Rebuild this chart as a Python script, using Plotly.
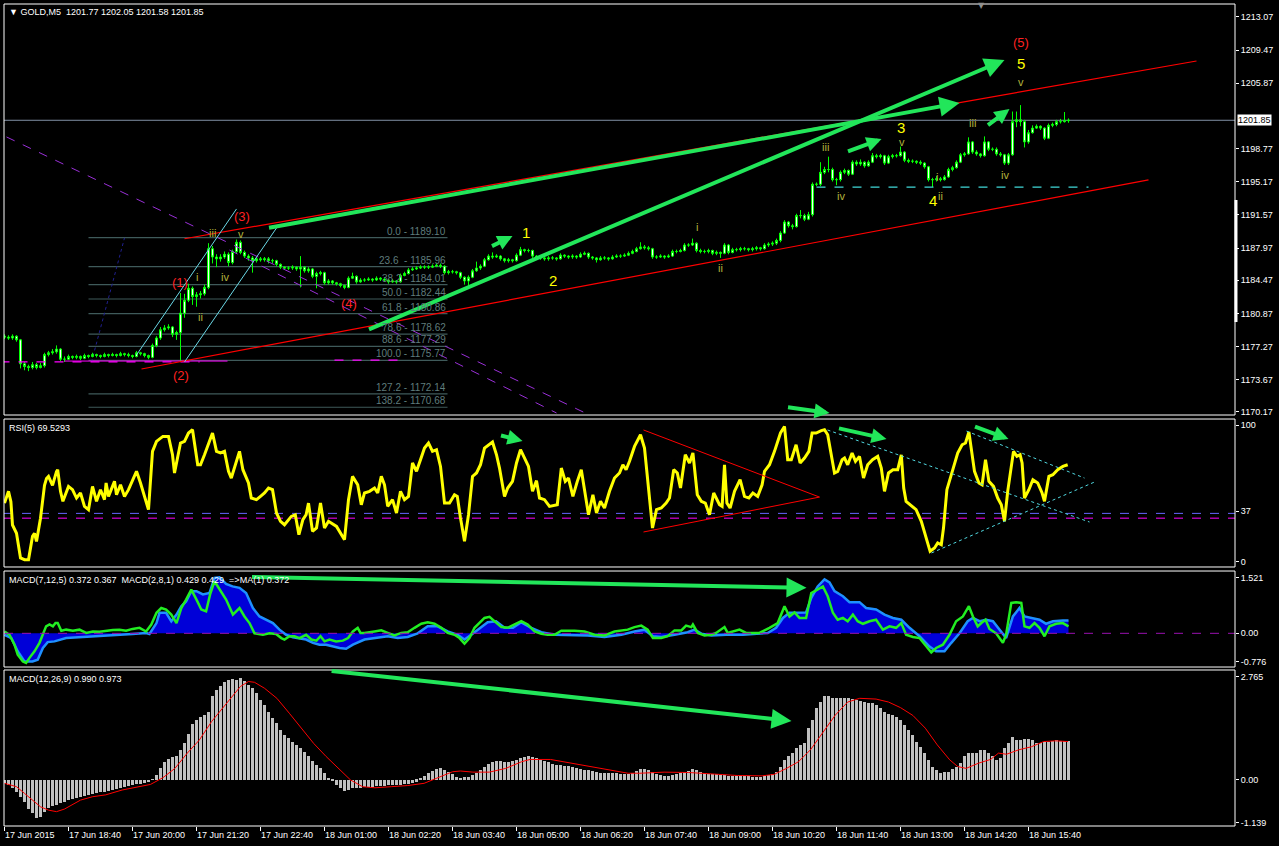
import plotly.graph_objects as go

FONT = "Liberation Sans"
ARROW_GREEN = "#22e65a"

# ---------------- price data: GOLD M5, bar 0 = 17 Jun 17:20 ----------------
close = [
    1178.3, 1178.2, 1178.4, 1178.0, 1175.4, 1175.1, 1175.0, 1175.3, 1175.0, 1175.2,
    1176.4, 1176.6, 1176.7, 1177.0, 1175.9, 1175.9, 1176.2, 1176.1, 1176.2, 1176.0,
    1176.3, 1176.2, 1176.4, 1176.3, 1176.2, 1176.4, 1176.3, 1176.4, 1176.3, 1176.5,
    1176.4, 1176.3, 1176.2, 1176.6, 1176.5, 1176.3, 1176.1, 1177.4, 1178.2, 1179.1,
    1179.3, 1179.4, 1178.6, 1178.8, 1180.9, 1182.3, 1183.6, 1182.7, 1182.9, 1183.0,
    1183.7, 1187.9, 1187.0, 1186.8, 1187.0, 1187.3, 1186.4, 1187.6, 1188.6, 1187.5,
    1187.1, 1186.9, 1186.6, 1186.8, 1186.7, 1186.8, 1186.6, 1186.6, 1186.2, 1185.9,
    1185.8, 1185.8, 1185.9, 1185.7, 1185.9, 1185.5, 1185.7, 1184.9, 1185.2, 1185.3,
    1184.2, 1184.4, 1184.2, 1184.1, 1183.9, 1183.7, 1184.7, 1184.9, 1184.3, 1184.5,
    1184.5, 1184.6, 1184.5, 1184.7, 1184.6, 1184.5, 1184.3, 1184.4, 1184.3, 1185.0,
    1185.2, 1185.6, 1185.7, 1185.8, 1185.9, 1185.9, 1185.9, 1186.0, 1186.1, 1186.0,
    1185.3, 1185.4, 1185.4, 1185.3, 1184.8, 1184.4, 1184.8, 1185.5, 1185.8, 1186.0,
    1186.7, 1187.1, 1187.0, 1187.1, 1186.8, 1186.6, 1186.7, 1186.6, 1187.2, 1187.8,
    1187.7, 1187.7, 1187.1, 1186.9, 1186.9, 1186.8, 1186.9, 1186.9, 1186.8, 1187.2,
    1187.1, 1187.0, 1187.1, 1187.0, 1187.3, 1187.4, 1187.0, 1186.9, 1186.7, 1186.9,
    1186.9, 1186.8, 1187.0, 1187.1, 1187.1, 1187.2, 1187.4, 1187.6, 1187.9, 1188.1,
    1188.0, 1187.9, 1187.0, 1187.0, 1187.1, 1187.0, 1187.1, 1187.6, 1187.6, 1187.7,
    1188.3, 1188.3, 1188.5, 1187.7, 1187.6, 1187.6, 1187.7, 1187.4, 1187.5, 1187.4,
    1188.3, 1187.5, 1187.8, 1187.8, 1187.9, 1187.9, 1187.8, 1187.9, 1188.0, 1187.9,
    1188.3, 1188.4, 1188.5, 1188.8, 1189.6, 1190.8, 1190.4, 1190.3, 1191.5, 1191.5,
    1191.1, 1191.6, 1194.9, 1194.9, 1196.2, 1196.5, 1196.5, 1195.4, 1195.4, 1196.2,
    1196.4, 1196.0, 1197.3, 1197.1, 1197.3, 1196.9, 1197.3, 1198.0, 1197.9, 1198.0,
    1197.2, 1197.9, 1198.0, 1198.0, 1198.4, 1197.5, 1197.4, 1197.4, 1197.3, 1197.2,
    1196.8, 1195.4, 1195.4, 1195.5, 1195.4, 1195.7, 1196.5, 1196.7, 1197.3, 1198.1,
    1198.2, 1199.5, 1198.4, 1198.2, 1198.0, 1199.5, 1198.7, 1198.7, 1198.2, 1198.1,
    1197.2, 1198.1, 1201.7, 1201.9, 1201.7, 1199.5, 1200.5, 1201.0, 1201.2, 1201.0,
    1199.9, 1201.3, 1201.4, 1201.7, 1201.7, 1201.8, 1201.85,
]
high = [
    1178.6, 1178.5, 1178.6, 1178.5, 1178.1, 1175.6, 1175.3, 1175.6, 1175.5, 1175.5,
    1176.6, 1176.8, 1177.0, 1177.4, 1177.1, 1176.2, 1176.4, 1176.3, 1176.4, 1176.3,
    1176.5, 1176.4, 1176.6, 1176.5, 1176.4, 1176.6, 1176.5, 1176.6, 1176.5, 1176.7,
    1176.6, 1176.6, 1176.4, 1176.8, 1176.7, 1176.6, 1176.4, 1177.6, 1178.4, 1179.4,
    1179.6, 1179.7, 1179.5, 1179.0, 1183.1, 1183.0, 1184.1, 1183.8, 1183.2, 1183.3,
    1184.0, 1188.5, 1188.2, 1187.3, 1187.3, 1187.6, 1187.5, 1187.8, 1188.9, 1188.8,
    1187.7, 1187.3, 1187.1, 1187.0, 1187.0, 1187.0, 1187.0, 1186.8, 1186.7, 1186.3,
    1186.0, 1186.0, 1186.1, 1186.0, 1187.1, 1186.0, 1185.9, 1185.8, 1185.4, 1185.5,
    1185.4, 1184.6, 1184.5, 1184.3, 1184.2, 1184.0, 1184.9, 1185.3, 1185.0, 1184.7,
    1184.7, 1184.8, 1184.7, 1184.9, 1184.8, 1184.7, 1184.6, 1184.6, 1184.5, 1185.2,
    1185.4, 1185.8, 1185.9, 1186.0, 1186.1, 1186.1, 1186.1, 1186.2, 1186.3, 1186.3,
    1186.1, 1185.6, 1185.6, 1185.5, 1185.4, 1184.9, 1185.0, 1185.7, 1186.5, 1186.2,
    1186.9, 1187.3, 1187.5, 1187.3, 1187.2, 1186.9, 1186.9, 1186.8, 1187.4, 1188.1,
    1187.9, 1187.9, 1187.8, 1187.2, 1187.1, 1187.0, 1187.1, 1187.1, 1187.0, 1187.4,
    1187.3, 1187.2, 1187.3, 1187.2, 1187.5, 1187.6, 1187.5, 1187.1, 1187.0, 1187.1,
    1187.1, 1187.0, 1187.2, 1187.3, 1187.3, 1187.4, 1187.6, 1187.8, 1188.1, 1188.6,
    1188.3, 1188.2, 1188.0, 1187.2, 1187.3, 1187.2, 1187.3, 1187.8, 1187.8, 1187.9,
    1188.5, 1188.5, 1189.0, 1188.6, 1187.9, 1187.8, 1187.9, 1187.8, 1187.7, 1187.6,
    1188.5, 1188.4, 1188.0, 1188.0, 1188.1, 1188.1, 1188.0, 1188.1, 1188.2, 1188.1,
    1188.5, 1188.6, 1188.7, 1189.0, 1189.8, 1191.0, 1190.9, 1190.6, 1191.7, 1192.1,
    1191.7, 1191.9, 1195.1, 1195.1, 1197.3, 1196.8, 1197.9, 1196.7, 1195.6, 1196.4,
    1196.6, 1196.5, 1197.5, 1197.5, 1197.6, 1197.4, 1197.5, 1198.3, 1198.2, 1198.2,
    1198.1, 1198.1, 1198.2, 1198.2, 1199.0, 1198.5, 1197.7, 1197.6, 1197.5, 1197.5,
    1197.3, 1196.9, 1195.6, 1195.8, 1195.7, 1195.9, 1196.7, 1196.9, 1197.5, 1198.3,
    1198.4, 1200.0, 1199.6, 1198.6, 1198.3, 1200.1, 1199.6, 1198.9, 1198.9, 1198.4,
    1198.2, 1198.3, 1202.8, 1202.8, 1203.5, 1201.9, 1200.8, 1201.3, 1201.4, 1201.3,
    1201.1, 1201.5, 1201.6, 1201.9, 1202.0, 1202.75, 1202.05,
]
low = [
    1178.1, 1178.0, 1178.0, 1177.8, 1174.9, 1174.7, 1174.6, 1174.8, 1174.8, 1174.9,
    1175.0, 1176.2, 1176.4, 1176.5, 1175.7, 1175.6, 1175.8, 1175.9, 1175.9, 1175.8,
    1175.9, 1176.0, 1176.1, 1176.1, 1176.0, 1176.1, 1176.1, 1176.2, 1176.1, 1176.2,
    1176.2, 1176.1, 1176.0, 1176.1, 1176.3, 1176.1, 1175.9, 1176.0, 1177.2, 1178.0,
    1178.9, 1179.1, 1178.3, 1178.0, 1175.6, 1180.4, 1182.1, 1181.8, 1181.6, 1182.5,
    1182.8, 1183.5, 1186.3, 1185.9, 1186.5, 1186.8, 1186.0, 1186.2, 1187.4, 1187.3,
    1186.9, 1186.6, 1185.3, 1186.4, 1186.5, 1186.5, 1186.3, 1186.3, 1186.0, 1185.7,
    1185.6, 1185.6, 1185.6, 1185.5, 1183.7, 1185.3, 1185.3, 1184.7, 1183.6, 1185.0,
    1184.0, 1184.0, 1184.0, 1183.9, 1183.7, 1183.5, 1183.6, 1184.6, 1184.1, 1184.2,
    1184.3, 1184.4, 1184.3, 1184.4, 1184.4, 1184.3, 1184.1, 1184.2, 1184.1, 1184.2,
    1184.9, 1185.1, 1185.5, 1185.6, 1185.7, 1185.7, 1185.7, 1185.8, 1185.9, 1185.8,
    1185.1, 1185.1, 1185.2, 1185.1, 1184.6, 1184.0, 1183.9, 1184.7, 1185.4, 1185.6,
    1185.9, 1186.6, 1186.8, 1186.9, 1186.6, 1186.4, 1186.4, 1186.4, 1186.5, 1187.1,
    1187.5, 1187.5, 1186.9, 1186.7, 1186.7, 1186.6, 1186.6, 1186.7, 1186.6, 1186.7,
    1186.9, 1186.8, 1186.8, 1186.8, 1186.9, 1187.2, 1186.8, 1186.7, 1186.4, 1186.6,
    1186.7, 1186.6, 1186.7, 1186.9, 1186.9, 1187.0, 1187.1, 1187.3, 1187.5, 1187.8,
    1187.8, 1187.7, 1186.8, 1186.8, 1186.9, 1186.8, 1186.9, 1187.0, 1187.4, 1187.5,
    1187.6, 1188.1, 1188.2, 1187.5, 1187.4, 1187.4, 1187.4, 1187.2, 1187.2, 1186.9,
    1187.3, 1187.3, 1187.4, 1187.6, 1187.6, 1187.7, 1187.6, 1187.6, 1187.7, 1187.7,
    1187.8, 1188.1, 1188.2, 1188.3, 1188.6, 1189.5, 1190.2, 1190.0, 1190.2, 1191.2,
    1190.9, 1191.0, 1191.4, 1194.7, 1194.7, 1196.0, 1196.2, 1195.2, 1194.8, 1195.2,
    1196.0, 1195.8, 1195.9, 1196.9, 1196.9, 1196.7, 1196.8, 1197.2, 1197.7, 1197.7,
    1197.0, 1197.1, 1197.7, 1197.8, 1197.9, 1197.3, 1197.2, 1197.2, 1197.1, 1197.0,
    1196.6, 1195.2, 1194.6, 1195.2, 1195.2, 1195.3, 1195.6, 1196.3, 1196.6, 1197.2,
    1197.9, 1198.1, 1198.2, 1198.0, 1197.8, 1197.9, 1198.5, 1198.5, 1198.0, 1197.9,
    1197.0, 1197.0, 1198.0, 1201.1, 1201.2, 1198.9, 1199.3, 1200.4, 1200.9, 1200.8,
    1199.7, 1199.8, 1201.1, 1201.2, 1201.5, 1201.6, 1201.58,
]
first_open = 1178.4
last_price = 1201.85

# ---------------- indicators (bar position, value) ----------------
rsi_points = [
    (0, 43), (1, 51.6), (1.6, 44), (2, 27), (3, 21), (4, 3), (5, 1.7), (6, 1.7), (7, 18.7), (7.5, 21),
    (8, 15), (9, 32), (10, 56), (10.5, 61), (11, 62.5), (12, 56), (13, 66), (13.3, 67.4), (14, 51.6),
    (14.6, 44.3), (16, 55.2), (17, 52.8), (18, 46.7), (19, 50.4), (20, 40.6), (21, 38.2), (22, 55.2),
    (23, 44.3), (24, 52.8), (25, 45.5), (25.4, 57.7), (26, 47.9), (27.5, 58.9), (28, 49.1), (29, 56.4),
    (30, 47.9), (31, 52.8), (33, 66.2), (34, 57.7), (35, 47.9), (36, 38.2), (37, 80.8), (38, 88.1),
    (39.6, 91.7), (41, 91.7), (42, 78.3), (42.5, 65), (44, 86.9), (45, 88.1), (46, 94.2), (47, 96.6),
    (48.3, 71), (49, 71), (50, 78.3), (52, 94.2), (53, 80.8), (54, 79.6), (55, 80.8), (56, 66.2),
    (56.7, 61.3), (58, 74.7), (58.75, 80.8), (59.6, 67.4), (61, 57.7), (61.7, 46.7), (63, 45.5),
    (64, 47.9), (65, 50.4), (66, 54), (67, 52.8), (68, 35.8), (69, 29.7), (70, 27.2), (71.7, 33.3),
    (72.7, 34.5), (73.6, 19.9), (74.6, 30.9), (75.4, 34.5), (76, 43), (77, 22.4), (78, 24.8), (79, 43),
    (80, 24.8), (81, 29.7), (83, 26), (84, 21.2), (85, 16.3), (86, 45.5), (87, 62.5),
    (88.3, 56.4), (89.2, 41.8), (90, 50.4), (91.25, 51.6), (92.5, 54), (93.3, 50.4), (94.2, 62.5),
    (95, 56.4), (95.8, 40.6), (97, 45.5), (98, 35.8), (99, 51.6), (100, 45.5), (101, 47.9), (102, 72.3),
    (103, 66.2), (104, 74.7), (105, 83.2), (106, 86.9), (107, 80.8), (108, 82), (109, 69.8), (110, 43),
    (111.25, 43), (112.5, 49.1), (113.2, 47.9), (114, 32.1), (115, 15.1), (116, 34.5), (117, 62.5),
    (118, 65), (119, 71), (120, 83.2), (121.25, 85.6), (122, 87.6), (123, 78.3), (123.75, 68.6),
    (125, 47.9), (125.8, 54), (127, 58.9), (128, 72.3), (129, 82), (130, 75.9), (131, 69.8), (132, 51.6),
    (133, 59.4), (133.75, 46.7), (135, 45.5), (136.25, 40.6), (137.5, 41.3), (138.2, 41.8), (139.2, 68.6),
    (140.2, 58.9), (141, 61.3), (142.1, 47.9), (143.2, 58.9), (144.2, 67.4), (145, 52.8), (146, 34.5),
    (147.1, 49.1), (148, 35.8), (149, 44.3), (150, 39.4), (151.25, 51.6), (152.5, 61.3), (153.75, 65),
    (154.6, 71), (155.4, 67.4), (156.25, 73.5), (157.5, 84.4), (159, 92.9), (160, 83.2), (161.25, 49.1),
    (162, 24.8), (163, 38.2), (164.2, 39.4), (165.4, 43), (166.25, 46.7), (167.3, 67.4), (168.2, 65),
    (169, 54), (170.2, 78.3), (171.25, 72.3), (172.1, 79.6), (173.2, 49.1), (174.2, 44.3), (175.2, 43),
    (176.25, 34.5), (177.3, 50.4),
    (178.75, 41.8), (179.4, 40.6), (180, 71), (180.6, 43), (181.4, 39.4), (182.5, 51.6), (183.9, 60.1),
    (185, 47.9), (186.1, 46.7), (187.1, 50.4), (188.3, 47.9), (189.4, 56.4), (190, 66.2), (191.25, 71),
    (192.5, 80.8), (194, 94.2), (195, 99), (195.8, 74.7), (196.7, 74.7), (197.9, 85.6), (198.9, 72.3),
    (200, 75.9), (201.1, 80.8), (201.9, 94.2), (202.9, 94.2), (204.2, 95.9), (205, 96.6), (205.8, 92.9),
    (206.7, 77.1), (207.5, 65), (208.3, 66.2), (209.4, 74.7), (210, 75.9), (210.8, 71), (211.9, 79.6),
    (212.75, 73.5), (213.75, 77.1), (214.75, 61.3), (215.8, 71), (217, 74.7), (218.3, 77.1), (219.2, 68.6),
    (220, 51.6), (221, 65), (222.1, 67.4), (223.3, 67.4), (224.2, 78.3), (224.8, 54), (225.4, 44.3),
    (226.4, 41.8), (227.9, 38.2), (229.2, 29.7), (230.4, 17.5), (231.4, 7.8), (232.5, 10.2), (233.3, 13.9),
    (234.2, 12.6), (234.75, 24.8), (235.6, 52.8), (236.4, 61.3), (237.5, 71), (238.3, 79.6), (239.4, 85.6),
    (240.25, 86.9), (241.1, 94.9), (241.7, 83.2), (242.5, 66.2), (243.6, 57.7), (244.4, 56.4),
    (245.25, 74.7), (246.1, 58.9), (247.25, 55.2), (248.3, 46.7), (249.2, 41.8), (250, 29.7), (250.8, 51.6),
    (251.7, 72.3), (252.25, 80.8), (253.1, 77.1), (253.9, 78.3), (254.4, 72.3), (255, 46.7), (256.1, 52.8),
    (257.1, 60.1), (258.3, 57.7), (259.4, 50.4), (260, 44.3), (261.1, 62.5), (262.1, 63.7), (263.3, 67.4),
    (264.6, 69.8), (265.8, 71),
]
rsi_levels = [35.5, 32.0]

macd_blue_points = [
    (0, -0.04), (1.7, -0.13), (3.3, -0.49), (5, -0.77), (7, -0.77), (8.3, -0.72), (9.6, -0.4), (10.8, -0.24),
    (12.5, -0.22), (15.4, -0.13), (19.6, -0.1), (23.75, -0.08), (28, -0.04), (32, -0.02), (35.4, 0.01),
    (36.25, -0.02), (38, 0.28), (38.75, 0.56), (40.4, 0.56), (41.7, 0.33), (43, 0.51), (44.2, 0.74),
    (45.4, 0.87), (46.7, 1.15), (48, 1.15), (49.6, 1.06), (51.25, 1.1), (52.5, 1.51), (53.75, 1.53),
    (55.4, 1.35), (57, 1.28), (58.75, 1.24), (60.4, 1.1), (62.1, 0.69), (63.75, 0.46), (65.4, 0.37),
    (67.1, 0.28), (68.75, 0.1), (70.4, -0.04), (72.1, -0.11), (73.75, -0.13), (75.4, -0.17), (77.1, -0.26),
    (78.75, -0.31), (80.4, -0.31), (82.1, -0.36), (83.75, -0.4), (85.4, -0.42), (87.1, -0.31), (90, -0.17),
    (92.5, -0.13), (95.8, -0.08), (98.3, -0.13), (100.8, -0.1), (103.3, 0.0), (105.8, 0.19), (108.3, 0.19),
    (110.8, 0.05), (113.3, -0.04), (115, -0.17), (116.7, -0.04), (118.3, 0.1), (120.8, 0.3), (122.9, 0.33),
    (125, 0.15), (127.1, 0.15), (129.2, 0.3), (131.7, 0.15), (134.2, 0.03), (137.5, -0.04), (141.7, -0.04),
    (145.8, -0.06), (150, -0.1), (154.2, -0.04), (157.5, 0.05), (160, 0.1), (162.1, -0.08), (164.2, -0.1),
    (167.5, -0.04), (170.8, 0.03), (172.5, 0.1), (174.2, -0.01), (176.7, -0.06), (180.4, -0.04),
    (184.6, -0.04), (188.75, -0.02), (190.8, 0.01), (192.9, 0.15), (194.6, 0.42), (196.25, 0.56),
    (198.3, 0.57), (200.4, 0.57), (201.7, 0.97), (203.3, 1.28), (205, 1.47), (206.25, 1.39), (207.5, 1.15),
    (209.6, 1.01), (211.25, 0.85), (213.75, 0.85), (215.4, 0.69), (217.9, 0.65), (220, 0.51), (222.1, 0.42),
    (224.2, 0.37), (226.25, 0.15), (228.75, -0.08), (231.25, -0.36), (232.9, -0.49), (235, -0.49),
    (236.7, -0.26), (238.75, 0.0), (240.8, 0.33), (242.1, 0.42), (243.75, 0.33), (245.4, 0.37),
    (247.1, 0.33), (248.75, 0.1), (250.4, -0.13), (252.1, 0.46), (253.75, 0.69), (255, 0.46), (257.1, 0.42),
    (258.75, 0.37), (260.4, 0.26), (262.1, 0.33), (264.6, 0.35), (266, 0.35),
]
macd_green_points = [
    (0, 0.05), (1.25, -0.04), (2.5, -0.31), (3.3, -0.58), (4.6, -0.77), (5.4, -0.81), (6.25, -0.67),
    (7.5, -0.49), (8.75, -0.26), (9.6, 0.0), (10.4, 0.19), (11.25, 0.24), (12.1, 0.19), (12.75, 0.28),
    (13.3, 0.28), (14.2, 0.07), (15.4, 0.1), (17.1, 0.07), (18.75, 0.1), (20.4, 0.01), (22.1, 0.05),
    (23.75, 0.04), (25.4, 0.07), (27.1, 0.09), (28.75, 0.1), (30.4, 0.07), (32, 0.12), (33.75, 0.15),
    (35.4, 0.05), (36.7, 0.24), (38, 0.56), (39.2, 0.69), (40.4, 0.65), (41.7, 0.51), (43, 0.28),
    (44.2, 0.69), (45.4, 0.92), (46.7, 1.19), (48, 0.92), (49.2, 0.65), (50.4, 0.6), (51.4, 1.06),
    (52.5, 1.42), (53.75, 1.19), (55.4, 0.92), (57.1, 0.51), (58.75, 0.69), (60, 0.46), (61.25, 0.28),
    (62.5, 0.0), (64.6, -0.04), (66.25, 0.0), (67.9, -0.02), (69.2, -0.13), (70, -0.17), (71.25, -0.08),
    (72.5, -0.08), (73.75, -0.13), (75.4, -0.04), (76.7, -0.17), (78, -0.2), (79, -0.08), (80, -0.22),
    (81.25, -0.17), (82.9, -0.22), (84.6, -0.2), (85.9, -0.13), (87.1, 0.05), (88.3, 0.15), (89, 0.01),
    (90, 0.01), (92.5, 0.05), (94.2, 0.08), (95.8, 0.01), (97.5, -0.06), (99.2, 0.01), (100.8, 0.03),
    (102.5, 0.15), (104.2, 0.26), (105.8, 0.3), (107.5, 0.26), (109.2, 0.15), (110.8, 0.01),
    (112.5, -0.04), (113.75, -0.13), (115, -0.28), (116.25, -0.13), (117.5, 0.15), (118.75, 0.28),
    (120, 0.42), (121.25, 0.45), (122.5, 0.33), (124.2, 0.17), (125.8, 0.15), (127.5, 0.24), (129.2, 0.33),
    (130.8, 0.24), (132.5, 0.05), (134.2, -0.01), (135.8, -0.04), (137.5, -0.04), (139.2, 0.07),
    (142.5, 0.07), (145, 0.05), (147.5, -0.04), (150, -0.06), (152.5, 0.05), (154.2, 0.08), (155.8, 0.1),
    (157.5, 0.17), (159.2, 0.21), (160.8, 0.1), (162.1, -0.13), (164.2, -0.13), (165.8, -0.08),
    (167.5, 0.08), (169.2, 0.08), (170.4, 0.21), (171.7, 0.17), (172.1, 0.24), (173.3, 0.01), (175, -0.06),
    (176.7, -0.04), (177.9, 0.01), (180, 0.17), (180.8, 0.01), (183.75, 0.1), (185.4, 0.01), (188.75, 0.01),
    (191.25, 0.15), (193.3, 0.28), (195, 0.74), (196.25, 0.46), (197.5, 0.57), (198.75, 0.42),
    (200.4, 0.42), (201.7, 1.1), (202.9, 1.17), (204.6, 1.28), (205.8, 1.01), (207.1, 0.56), (208.3, 0.37),
    (209.6, 0.42), (210.8, 0.33), (212.1, 0.51), (213.3, 0.33), (214.6, 0.26), (216.25, 0.33),
    (217.9, 0.37), (219.6, 0.1), (221.25, 0.19), (222.9, 0.15), (224.2, 0.28), (225.4, -0.04),
    (227.1, -0.1), (228.75, -0.13), (230.4, -0.36), (231.7, -0.52), (232.9, -0.4), (234.6, -0.31),
    (236.25, -0.04), (237.9, 0.33), (239.6, 0.46), (241.1, 0.74), (242.1, 0.46), (243.3, 0.19),
    (244.2, 0.28), (245.25, 0.37), (246.25, 0.12), (247.9, 0.0), (249.6, -0.26), (250.4, -0.04),
    (251.7, 0.83), (252.9, 0.85), (254.2, 0.83), (255, 0.19), (256.25, 0.15), (257.5, 0.28),
    (258.75, 0.15), (260, -0.08), (261.25, 0.19), (262.9, 0.26), (264.6, 0.28), (266, 0.19),
]

macd_hist = [
    -0.09, -0.13, -0.22, -0.31, -0.45, -0.60, -0.78, -0.89, -1.01, -0.98,
    -0.85, -0.76, -0.70, -0.67, -0.62, -0.58, -0.55, -0.50, -0.48, -0.45,
    -0.43, -0.40, -0.38, -0.36, -0.33, -0.31, -0.29, -0.27, -0.24, -0.21,
    -0.18, -0.16, -0.14, -0.12, -0.10, -0.08, -0.06, 0.01, 0.13, 0.31,
    0.47, 0.56, 0.62, 0.65, 0.81, 0.98, 1.23, 1.49, 1.61, 1.70,
    1.73, 1.83, 2.24, 2.42, 2.53, 2.64, 2.68, 2.71, 2.68, 2.73,
    2.66, 2.55, 2.46, 2.33, 2.15, 2.01, 1.83, 1.66, 1.52, 1.34,
    1.21, 1.12, 1.03, 0.94, 0.85, 0.74, 0.63, 0.51, 0.40, 0.31,
    0.18, 0.04, -0.04, -0.13, -0.22, -0.29, -0.27, -0.22, -0.21, -0.21,
    -0.20, -0.20, -0.18, -0.17, -0.15, -0.15, -0.14, -0.14, -0.13, -0.13,
    -0.12, -0.11, -0.09, -0.05, 0.04, 0.12, 0.18, 0.24, 0.30, 0.31,
    0.27, 0.21, 0.15, 0.09, 0.06, 0.08, 0.08, 0.13, 0.18, 0.27,
    0.36, 0.42, 0.49, 0.51, 0.50, 0.49, 0.49, 0.52, 0.54, 0.59,
    0.62, 0.64, 0.62, 0.58, 0.54, 0.50, 0.47, 0.44, 0.41, 0.39,
    0.38, 0.37, 0.35, 0.32, 0.30, 0.28, 0.26, 0.23, 0.21, 0.19,
    0.18, 0.18, 0.18, 0.18, 0.17, 0.16, 0.16, 0.19, 0.25, 0.29,
    0.30, 0.27, 0.22, 0.17, 0.14, 0.12, 0.11, 0.13, 0.15, 0.18,
    0.21, 0.24, 0.30, 0.27, 0.22, 0.18, 0.15, 0.15, 0.15, 0.13,
    0.13, 0.12, 0.11, 0.12, 0.11, 0.11, 0.11, 0.09, 0.09, 0.09,
    0.11, 0.13, 0.17, 0.22, 0.36, 0.54, 0.63, 0.72, 0.87, 0.94,
    0.98, 1.39, 1.61, 1.92, 2.10, 2.24, 2.24, 2.21, 2.21, 2.21,
    2.19, 2.19, 2.17, 2.15, 2.12, 2.09, 2.06, 2.06, 2.01, 1.92,
    1.83, 1.76, 1.74, 1.70, 1.61, 1.48, 1.34, 1.21, 1.03, 0.89,
    0.72, 0.54, 0.36, 0.27, 0.18, 0.21, 0.21, 0.30, 0.36, 0.45,
    0.63, 0.72, 0.72, 0.72, 0.81, 0.81, 0.72, 0.63, 0.54, 0.60,
    0.85, 0.98, 1.16, 1.07, 1.07, 1.10, 1.10, 1.07, 0.98, 0.98,
    1.01, 1.03, 1.05, 1.07, 1.05, 1.05, 1.05,
]
macd_signal_points = [
    (0, -0.09), (3, -0.18), (5, -0.36), (7, -0.54), (9, -0.72), (11, -0.81), (13, -0.85), (15, -0.78),
    (17, -0.67), (19, -0.54), (22, -0.45), (25.3, -0.4), (29.4, -0.27), (33.4, -0.18), (36.5, -0.12),
    (39.6, 0.06), (42.6, 0.31), (45.7, 0.72), (48.7, 1.07), (51.8, 1.57), (54.9, 1.97), (56.9, 2.24),
    (59, 2.51), (61, 2.64), (62.5, 2.62), (65, 2.46), (68.1, 2.19), (71.2, 1.79), (74.2, 1.39),
    (77.3, 0.98), (80.4, 0.63), (83.4, 0.31), (86.5, 0.0), (89.5, -0.18), (92.6, -0.21), (96.7, -0.18),
    (100.8, -0.15), (104.9, -0.09), (109, 0.09), (112, 0.22), (114, 0.24), (117.1, 0.21), (121.2, 0.21),
    (125.3, 0.31), (129.3, 0.49), (131.4, 0.55), (136.5, 0.55), (141.6, 0.45), (146.7, 0.36),
    (151.8, 0.27), (155.9, 0.18), (158.8, 0.18), (164.9, 0.21), (171, 0.2), (177.1, 0.15), (183.2, 0.12),
    (189.4, 0.11), (192.4, 0.15), (195.5, 0.31), (198.5, 0.49), (201.5, 0.81), (204.7, 1.30),
    (207.7, 1.74), (210.8, 2.09), (213.8, 2.19), (217.9, 2.17), (221, 2.09), (224, 1.94), (227.1, 1.73),
    (230.2, 1.39), (233.2, 0.94), (236.3, 0.54), (238.3, 0.36), (240.4, 0.31), (243.5, 0.45),
    (246.5, 0.55), (248.5, 0.72), (250.5, 0.69), (253.6, 0.81), (256.7, 0.89), (259.8, 1.03),
    (262.8, 1.05), (265.9, 1.03),
]

# ---------------- axis ticks ----------------
price_ticks = [1213.07, 1209.47, 1205.87, 1198.77, 1195.17, 1191.57, 1187.97,
               1184.47, 1180.87, 1177.27, 1173.67, 1170.17]
rsi_ticks = [100, 37, 0]
macd1_ticks = [1.521, 0.0, -0.776]
macd1_ticktext = ["1.521", "0.00", "-0.776"]
macd2_ticks = [2.765, 0.0, -1.139]
macd2_ticktext = ["2.765", "0.00", "-1.139"]
x_tick_bars = list(range(0, 257, 16))
x_tick_text = ["17 Jun 2015", "17 Jun 18:40", "17 Jun 20:00", "17 Jun 21:20", "17 Jun 22:40",
               "18 Jun 01:00", "18 Jun 02:20", "18 Jun 03:40", "18 Jun 05:00", "18 Jun 06:20",
               "18 Jun 07:40", "18 Jun 09:00", "18 Jun 10:20", "18 Jun 11:40", "18 Jun 13:00",
               "18 Jun 14:20", "18 Jun 15:40"]

# ---------------- Fibonacci retracement ----------------
fib_pct = ["0.0", "23.6 ", "38.2", "50.0", "61.8", "78.6", "88.6", "100.0", "127.2", "138.2"]
fib_price = [1189.10, 1185.96, 1184.01, 1182.44, 1180.86, 1178.62, 1177.29, 1175.77, 1172.14, 1170.68]
fib_from_bar, fib_to_bar = 21, 110.75

# ---------------- analyst drawings, (bar, price) ----------------
red_channel = [((45, 1188.98), (298, 1208.29)), ((34.25, 1174.84), (286, 1195.37))]
cyan_channel = [((33, 1176.36), (58, 1192.22)), ((45, 1175.60), (68, 1190.15))]
cyan_support = ((203, 1194.6), (271, 1194.6))
navy_fib_line = ((21.75, 1175.6), (30, 1189.07))
purple_fans = [((0.5, 1200.04), (146.25, 1169.84)), ((56.25, 1187.76), (138, 1170.06))]
magenta_dash = [((-1, 1175.6), (48.75, 1175.6)), ((82.5, 1175.8), (98.75, 1175.8))]
magenta_solid = ((15, 1175.7), (55.75, 1175.7))
long_arrows = [((65.75, 1190.15), (238.75, 1203.73)), ((90.75, 1179.07), (250, 1208.40))]
short_arrows = [((121.5, 1188.1), (127, 1189.28)), ((210.5, 1198.41), (219.25, 1199.82)),
                ((245.5, 1201.2), (251.25, 1203.08)), ((195.5, 1170.71), (206.25, 1170.06))]
rsi_triangle = [((159.75, 96.4), (203.75, 47.4)), ((159.75, 21.9), (203.75, 47.4))]
rsi_cyan = [((205.75, 96.4), (271.25, 29.2)), ((240.5, 95.6), (270, 61.3)), ((231.75, 6.6), (272.5, 58.4))]
rsi_arrows = [((123.75, 92.7), (129.5, 88.3)), ((208.25, 97.8), (220.5, 89.8)), ((242.25, 99.3), (251, 89.8))]
macd1_arrow = ((61.5, 1.54), (200.5, 1.24))
macd2_arrow = ((81.4, 2.93), (196.75, 1.58))

wave_red = [("(1)", 43.75, 1184.18), ("(2)", 44, 1174.08), ("(3)", 59.25, 1191.35),
            ("(4)", 86, 1181.9), ("(5)", 254, 1210.35)]
wave_yellow = [("1", 130.25, 1189.61), ("2", 137, 1184.4), ("3", 224, 1201.12),
               ("4", 232, 1193.19), ("5", 254, 1208.07)]
wave_minor = [("i", 48, 1184.83), ("ii", 49, 1180.5), ("iii", 52, 1189.61), ("iv", 55, 1184.83),
              ("v", 59, 1189.5), ("i", 173, 1190.26), ("ii", 179, 1185.81), ("iii", 205.25, 1198.95),
              ("iv", 209, 1193.63), ("v", 224.25, 1199.49), ("i", 233, 1195.69), ("ii", 234, 1193.63),
              ("iii", 242, 1201.56), ("iv", 250, 1195.91), ("v", 254, 1206.0)]

# ---------------- build figure ----------------
bars = list(range(len(close)))
open_ = [first_open] + close[:-1]
high_c = [max(h, o, c) for h, o, c in zip(high, open_, close)]
low_c = [min(l, o, c) for l, o, c in zip(low, open_, close)]

fig = go.Figure()
candle_style = dict(line=dict(color="#00ff00", width=1), fillcolor="#ffffff")
fig.add_trace(go.Candlestick(x=bars, open=open_, high=high_c, low=low_c, close=close,
                             increasing=candle_style, decreasing=candle_style,
                             whiskerwidth=0, xaxis="x", yaxis="y", hoverinfo="skip"))

rx, rv = zip(*rsi_points)
fig.add_trace(go.Scatter(x=rx, y=rv, mode="lines", line=dict(color="#ffff00", width=3),
                         xaxis="x", yaxis="y2", hoverinfo="skip"))

bx, bv = zip(*macd_blue_points)
fig.add_trace(go.Scatter(x=bx, y=bv, mode="lines", fill="tozeroy", fillcolor="#0000d8",
                         line=dict(color="#1e90ff", width=2.5), xaxis="x", yaxis="y3", hoverinfo="skip"))
gx, gv = zip(*macd_green_points)
fig.add_trace(go.Scatter(x=gx, y=gv, mode="lines", line=dict(color="#22ee22", width=2.5),
                         xaxis="x", yaxis="y3", hoverinfo="skip"))

fig.add_trace(go.Bar(x=list(range(len(macd_hist))), y=macd_hist, width=0.75,
                     marker=dict(color="#c0c0c0", line=dict(width=0)),
                     xaxis="x", yaxis="y4", hoverinfo="skip"))
sx, sv = zip(*macd_signal_points)
fig.add_trace(go.Scatter(x=sx, y=sv, mode="lines", line=dict(color="#ff0000", width=1),
                         xaxis="x", yaxis="y4", hoverinfo="skip"))

shapes = []


def seg(p0, p1, yref, color, width=1, dash="solid", layer="above"):
    shapes.append(dict(type="line", xref="x", yref=yref, x0=p0[0], y0=p0[1], x1=p1[0], y1=p1[1],
                       line=dict(color=color, width=width, dash=dash), layer=layer))


for lvl in fib_price:
    seg((fib_from_bar, lvl), (fib_to_bar, lvl), "y", "#3f5a5a", 1.2, layer="below")
seg(*navy_fib_line, "y", "#202090", 1, "dot", layer="below")
for a, b in purple_fans:
    seg(a, b, "y", "#9a30d8", 1, "dash")
for a, b in magenta_dash:
    seg(a, b, "y", "#ff00ff", 1.2, "dash")
seg(*magenta_solid, "y", "#ff00ff", 1)
for a, b in red_channel:
    seg(a, b, "y", "#ff0000", 1.2)
for a, b in cyan_channel:
    seg(a, b, "y", "#6ad8e6", 1)
seg(*cyan_support, "y", "#40d8d8", 1.2, "dash")
shapes.append(dict(type="line", xref="x domain", yref="y", x0=0, x1=1, y0=last_price, y1=last_price,
                   line=dict(color="#8090a4", width=1), layer="below"))
shapes.append(dict(type="line", xref="x domain", yref="y2", x0=0, x1=1, y0=rsi_levels[0], y1=rsi_levels[0],
                   line=dict(color="#6666ff", width=1, dash="dash"), layer="below"))
shapes.append(dict(type="line", xref="x domain", yref="y2", x0=0, x1=1, y0=rsi_levels[1], y1=rsi_levels[1],
                   line=dict(color="#ff00ff", width=1, dash="dash"), layer="below"))
for a, b in rsi_triangle:
    seg(a, b, "y2", "#ff0000", 1)
for a, b in rsi_cyan:
    seg(a, b, "y2", "#50d8e0", 1, "dot")
shapes.append(dict(type="line", xref="x domain", yref="y3", x0=0, x1=1, y0=0, y1=0,
                   line=dict(color="#9a10b0", width=1, dash="dash"), layer="above"))
for ax in ["y", "y2", "y3", "y4"]:
    shapes.append(dict(type="rect", xref="x domain", yref=f"{ax} domain", x0=0, x1=1, y0=0, y1=1,
                       line=dict(color="#ffffff", width=1), fillcolor="rgba(0,0,0,0)", layer="above"))
shapes.append(dict(type="line", xref="paper", yref="paper", x0=1.0008, x1=1.0008, y0=0.6131, y1=0.7616,
                   line=dict(color="#ffffff", width=3)))

annotations = []


def arrow(tail, head, yref, width=4, size=1.0):
    annotations.append(dict(x=head[0], y=head[1], ax=tail[0], ay=tail[1], xref="x", yref=yref,
                            axref="x", ayref=yref, text="", showarrow=True, arrowhead=2,
                            arrowsize=size, arrowwidth=width, arrowcolor=ARROW_GREEN,
                            standoff=0, startstandoff=0))


for t, h in long_arrows:
    arrow(t, h, "y")
for t, h in short_arrows:
    arrow(t, h, "y", width=4, size=0.75)
for t, h in rsi_arrows:
    arrow(t, h, "y2", width=4, size=0.75)
arrow(*macd1_arrow, "y3")
arrow(*macd2_arrow, "y4")


def label(text, x, y, yref, color, size, **kw):
    d = dict(text=text, x=x, y=y, xref="x", yref=yref, showarrow=False,
             font=dict(family=FONT, size=size, color=color))
    d.update(kw)
    annotations.append(d)


for pct, lvl in zip(fib_pct, fib_price):
    label(f"{pct} - {lvl:.2f}", fib_to_bar, lvl, "y", "#5f7c7c", 10,
          xanchor="right", yanchor="bottom", yshift=-1)
for t, x, y in wave_red:
    label(t, x, y, "y", "#ff2020", 13)
for t, x, y in wave_yellow:
    label(t, x, y, "y", "#ffff00", 15)
for t, x, y in wave_minor:
    label(t, x, y, "y", "#b4b43c", 11)

annotations.append(dict(text=f"{last_price:.2f}", x=1, y=last_price, xref="paper", yref="y",
                        xanchor="left", xshift=2, showarrow=False, bgcolor="#ffffff", borderpad=0,
                        font=dict(family=FONT, size=9, color="#000000")))
txt = dict(family=FONT, size=9, color="#ffffff")
annotations.append(dict(text="▼ GOLD,M5  1201.77 1202.05 1201.58 1201.85", x=0, y=1, xref="paper",
                        yref="y domain", xanchor="left", yanchor="top", xshift=3, yshift=-1,
                        showarrow=False, font=txt))
annotations.append(dict(text="RSI(5) 69.5293", x=0, y=1, xref="paper", yref="y2 domain",
                        xanchor="left", yanchor="top", xshift=3, yshift=-2, showarrow=False, font=txt))
annotations.append(dict(text="MACD(7,12,5) 0.372 0.367  MACD(2,8,1) 0.429 0.429  =>MA(1) 0.372",
                        x=0, y=1, xref="paper", yref="y3 domain", xanchor="left", yanchor="top",
                        xshift=3, yshift=-2, showarrow=False, font=txt))
annotations.append(dict(text="MACD(12,26,9) 0.990 0.973", x=0, y=1, xref="paper", yref="y4 domain",
                        xanchor="left", yanchor="top", xshift=3, yshift=-2, showarrow=False, font=txt))
annotations.append(dict(text="▼", x=0.7985, y=1, xref="paper", yref="paper", yanchor="bottom",
                        yshift=-8, showarrow=False, font=dict(family="DejaVu Sans", size=8, color="#909090")))

tickfont = dict(family=FONT, size=9, color="#ffffff")
yaxis_common = dict(side="right", anchor="x", showgrid=False, zeroline=False, showline=False,
                    ticks="outside", ticklen=3, tickcolor="#ffffff", tickfont=tickfont, fixedrange=True)

fig.update_layout(
    width=1279, height=846, margin=dict(l=4, r=44, t=4, b=20),
    paper_bgcolor="#000000", plot_bgcolor="#000000", showlegend=False,
    xaxis=dict(domain=[0, 1], range=[-0.125, 307.625], anchor="y4", showgrid=False, zeroline=False,
               showline=False, tickvals=x_tick_bars, ticktext=x_tick_text, ticks="outside", ticklen=4,
               tickcolor="#ffffff", ticklabelposition="outside right", tickfont=tickfont,
               rangeslider=dict(visible=False), fixedrange=True),
    yaxis=dict(domain=[0.5, 1.0], range=[1169.84, 1214.48], tickvals=price_ticks, tickformat=".2f",
               **yaxis_common),
    yaxis2=dict(domain=[0.3151, 0.4951], range=[-3.65, 104.4], tickvals=rsi_ticks, **yaxis_common),
    yaxis3=dict(domain=[0.1934, 0.3102], range=[-0.92, 1.70], tickvals=macd1_ticks,
                ticktext=macd1_ticktext, **yaxis_common),
    yaxis4=dict(domain=[0, 0.1898], range=[-1.235, 2.95], tickvals=macd2_ticks,
                ticktext=macd2_ticktext, **yaxis_common),
    shapes=shapes, annotations=annotations, bargap=0,
)

fig.write_html("out.html", config={"displayModeBar": False},
               post_script="document.body.style.margin='0';")
